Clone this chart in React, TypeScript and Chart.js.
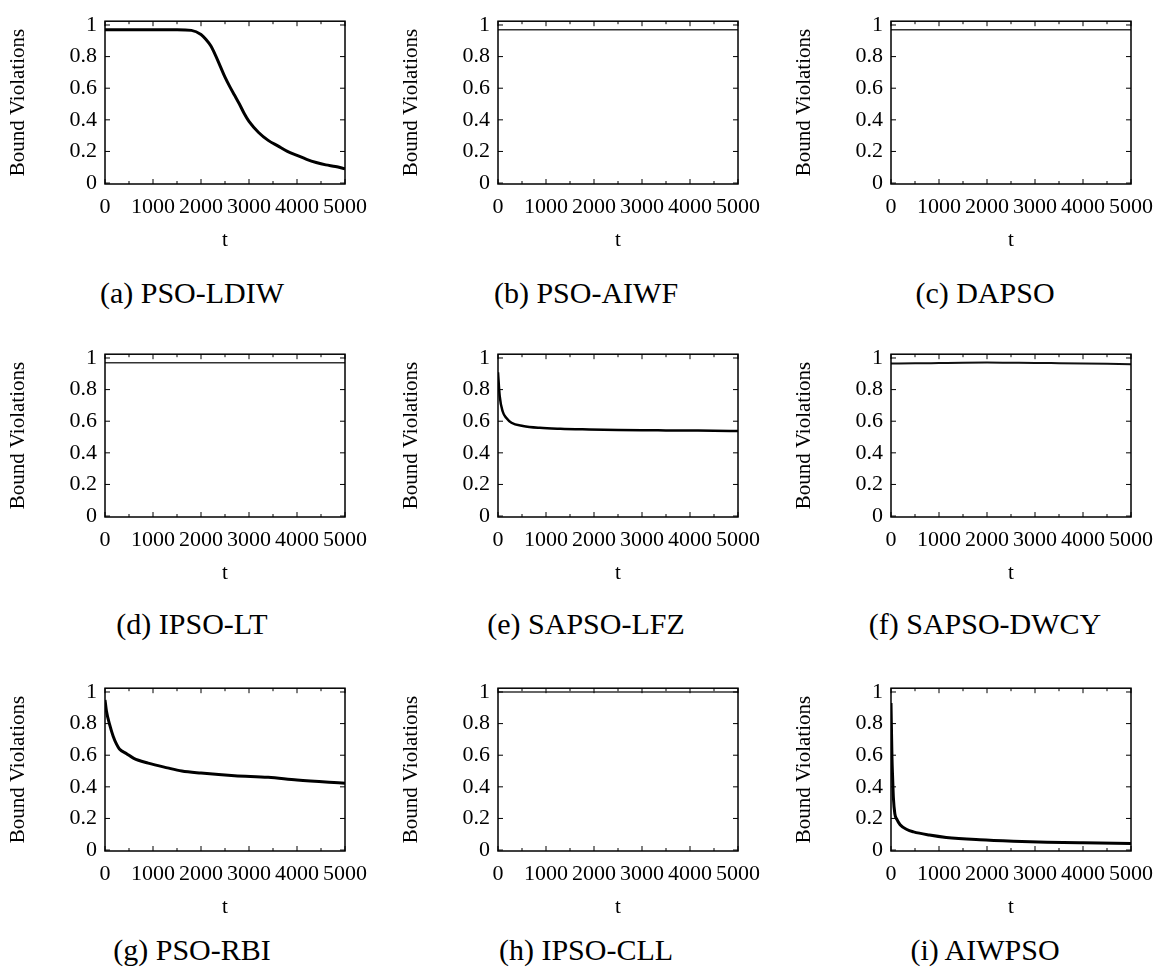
import React, { useEffect, useRef } from "react";
import { Chart, registerables } from "chart.js";

Chart.register(...registerables);

// ---- axis ticks ----
const xTicks = [0, 1000, 2000, 3000, 4000, 5000];
const xMinorTicks = [500, 1500, 2500, 3500, 4500];
const yTicks = [0, 0.2, 0.4, 0.6, 0.8, 1];
const yTickLabels = ["0", "0.2", "0.4", "0.6", "0.8", "1"];

// ---- series (t = iteration, v = fraction of bound violations) ----
const ldiwT = [0, 500, 1000, 1500, 1800, 2000, 2100, 2200, 2300, 2400, 2500, 2600, 2700, 2800, 2900, 3000, 3200, 3400, 3600, 3800, 4000, 4200, 4400, 4600, 4800, 5000];
const ldiwV = [0.97, 0.97, 0.97, 0.97, 0.966, 0.94, 0.91, 0.87, 0.81, 0.74, 0.67, 0.61, 0.555, 0.5, 0.44, 0.39, 0.32, 0.27, 0.235, 0.2, 0.175, 0.15, 0.13, 0.115, 0.105, 0.09];

const aiwfT = [0, 5000];
const aiwfV = [0.97, 0.97];

const dapsoT = [0, 5000];
const dapsoV = [0.97, 0.97];

const ipsoLtT = [0, 5000];
const ipsoLtV = [0.97, 0.97];

const lfzT = [0, 35, 100, 175, 280, 520, 870, 1300, 1900, 2500, 3000, 3500, 4000, 4500, 5000];
const lfzV = [0.91, 0.76, 0.66, 0.62, 0.59, 0.57, 0.558, 0.552, 0.548, 0.545, 0.543, 0.542, 0.541, 0.54, 0.538];

const dwcyT = [0, 500, 1000, 1500, 2000, 2500, 3000, 3500, 4000, 4500, 5000];
const dwcyV = [0.965, 0.966, 0.968, 0.97, 0.971, 0.97, 0.969, 0.967, 0.965, 0.963, 0.961];

const rbiT = [0, 30, 100, 170, 240, 300, 450, 600, 900, 1300, 1600, 2000, 2700, 3400, 4000, 5000];
const rbiV = [0.95, 0.88, 0.79, 0.72, 0.67, 0.64, 0.61, 0.58, 0.55, 0.52, 0.5, 0.487, 0.47, 0.46, 0.443, 0.423];

const cllT = [0, 5000];
const cllV = [1.0, 1.0];

const aiwT = [0, 20, 35, 50, 80, 120, 190, 330, 470, 800, 1150, 1850, 2550, 3250, 4000, 5000];
const aiwV = [0.93, 0.59, 0.45, 0.33, 0.23, 0.195, 0.16, 0.13, 0.115, 0.095, 0.08, 0.065, 0.056, 0.05, 0.046, 0.042];

const captions = [
  "(a) PSO-LDIW", "(b) PSO-AIWF", "(c) DAPSO",
  "(d) IPSO-LT", "(e) SAPSO-LFZ", "(f) SAPSO-DWCY",
  "(g) PSO-RBI", "(h) IPSO-CLL", "(i) AIWPSO",
];

type Panel = { t: number[]; v: number[]; lw: number; color: string };
const panels: Panel[] = [
  { t: ldiwT, v: ldiwV, lw: 3, color: "#000" },
  { t: aiwfT, v: aiwfV, lw: 1.3, color: "#333" },
  { t: dapsoT, v: dapsoV, lw: 1.3, color: "#333" },
  { t: ipsoLtT, v: ipsoLtV, lw: 1.3, color: "#333" },
  { t: lfzT, v: lfzV, lw: 2.5, color: "#000" },
  { t: dwcyT, v: dwcyV, lw: 2, color: "#111" },
  { t: rbiT, v: rbiV, lw: 3, color: "#000" },
  { t: cllT, v: cllV, lw: 1.3, color: "#333" },
  { t: aiwT, v: aiwV, lw: 3, color: "#000" },
];

// ---- layout ----
const CW = 378;
const CH = 260;
const colLeft = [0, 393, 786];
const rowTop = [0, 333, 667];
const capCenter = [192, 586, 985];
const capBaseline = [303, 634, 960];
const Y_AXIS_W = 105;
const PLOT_W = 240;
const X_AXIS_H = 76;

const FONT = "'Liberation Serif', 'Times New Roman', serif";

const framePlugin = {
  id: "gnuFrame",
  afterDatasetsDraw(chart: any) {
    const { ctx, chartArea: a, scales } = chart;
    const x = scales.x;
    const y = scales.y;
    ctx.save();
    ctx.strokeStyle = "#000";
    ctx.lineWidth = 1.5;
    ctx.strokeRect(a.left, a.top, a.right - a.left, a.bottom - a.top);
    ctx.lineWidth = 1;
    const seg = (x1: number, y1: number, x2: number, y2: number) => {
      ctx.beginPath();
      ctx.moveTo(x1, y1);
      ctx.lineTo(x2, y2);
      ctx.stroke();
    };
    const major = 5;
    const minor = 3;
    for (const v of xTicks) {
      const px = x.getPixelForValue(v);
      seg(px, a.bottom, px, a.bottom - major);
      seg(px, a.top, px, a.top + major);
    }
    for (const v of xMinorTicks) {
      const px = x.getPixelForValue(v);
      seg(px, a.bottom, px, a.bottom - minor);
      seg(px, a.top, px, a.top + minor);
    }
    for (const v of yTicks) {
      const py = y.getPixelForValue(v);
      seg(a.left, py, a.left + major, py);
      seg(a.right, py, a.right - major, py);
    }
    ctx.restore();
  },
};

function BVChart({ panel, left, top }: { panel: Panel; left: number; top: number }) {
  const ref = useRef<HTMLCanvasElement>(null);
  useEffect(() => {
    if (!ref.current) return;
    const tickFont = { family: FONT, size: 22 };
    const titleFont = { family: FONT, size: 21 };
    const chart = new Chart(ref.current, {
      type: "line",
      data: {
        datasets: [
          {
            data: panel.t.map((t, i) => ({ x: t, y: panel.v[i] })),
            borderColor: panel.color,
            borderWidth: panel.lw,
            pointRadius: 0,
            fill: false,
            cubicInterpolationMode: "monotone",
          },
        ],
      },
      options: {
        responsive: false,
        animation: false,
        devicePixelRatio: 1,
        layout: { padding: { top: 11, right: CW - Y_AXIS_W - PLOT_W, left: 0, bottom: 0 } },
        plugins: { legend: { display: false }, tooltip: { enabled: false } },
        scales: {
          x: {
            type: "linear",
            min: 0,
            max: 5000,
            bounds: "data",
            afterBuildTicks: (s: any) => {
              s.ticks = xTicks.map((v) => ({ value: v }));
            },
            afterFit: (s: any) => {
              s.height = X_AXIS_H;
            },
            grid: { display: false, drawTicks: false },
            border: { display: false },
            ticks: {
              font: tickFont,
              color: "#000",
              padding: 10,
              maxRotation: 0,
              autoSkip: false,
              callback: (v: any) => String(v),
            },
            title: {
              display: true,
              text: "t",
              font: titleFont,
              color: "#000",
              padding: { top: 0, bottom: 7 },
            },
          },
          y: {
            type: "linear",
            min: -0.006,
            max: 1.024,
            bounds: "data",
            afterBuildTicks: (s: any) => {
              s.ticks = yTicks.map((v) => ({ value: v }));
            },
            afterFit: (s: any) => {
              s.width = Y_AXIS_W;
            },
            grid: { display: false, drawTicks: false },
            border: { display: false },
            ticks: {
              font: tickFont,
              color: "#000",
              padding: 8,
              autoSkip: false,
              callback: (v: any) => {
                const i = yTicks.findIndex((t) => Math.abs(t - v) < 1e-9);
                return i >= 0 ? yTickLabels[i] : "";
              },
            },
            title: {
              display: true,
              text: "Bound Violations",
              font: titleFont,
              color: "#000",
              padding: { top: 6, bottom: 0 },
            },
          },
        },
      },
      plugins: [framePlugin],
    } as any);
    return () => chart.destroy();
  }, [panel]);
  return (
    <canvas
      ref={ref}
      width={CW}
      height={CH}
      style={{ position: "absolute", left, top, width: CW, height: CH }}
    />
  );
}

export default function App() {
  return (
    <div
      style={{
        position: "absolute",
        left: 0,
        top: 0,
        width: 1164,
        height: 980,
        overflow: "hidden",
        background: "#fff",
      }}
    >
      {panels.map((p, i) => (
        <BVChart key={i} panel={p} left={colLeft[i % 3]} top={rowTop[Math.floor(i / 3)]} />
      ))}
      {captions.map((c, i) => (
        <div
          key={"c" + i}
          style={{
            position: "absolute",
            left: capCenter[i % 3] - 200,
            width: 400,
            top: capBaseline[Math.floor(i / 3)] - 25,
            textAlign: "center",
            fontFamily: FONT,
            fontSize: 30,
            lineHeight: "30px",
            color: "#000",
            whiteSpace: "nowrap",
          }}
        >
          {c}
        </div>
      ))}
    </div>
  );
}
